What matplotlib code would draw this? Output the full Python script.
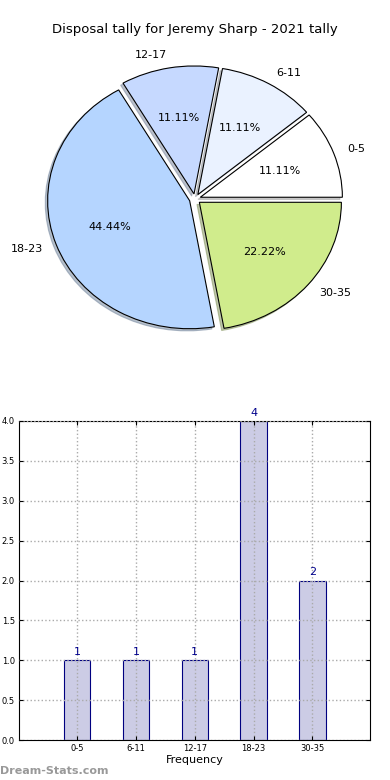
import matplotlib
matplotlib.use("Agg")
import matplotlib.pyplot as plt
import numpy as np

# data
labels = ["0-5", "6-11", "12-17", "18-23", "30-35"]
counts = [1, 1, 1, 4, 2]
pie_colors = ["#ffffff", "#eaf2ff", "#c6d9ff", "#b5d5ff", "#d0ec8c"]
title = "Disposal tally for Jeremy Sharp - 2021 tally"

fig = plt.figure(figsize=(3.9, 7.8), dpi=100)
fig.patch.set_facecolor("white")

# pie chart (slightly squashed, like the old non-equal aspect pies)
ax0 = fig.add_axes([0, (780 - 349) / 780, 1, 300 / 780])
wedges, texts, autotexts = ax0.pie(counts, labels=labels, colors=pie_colors,
                                   explode=[0.04] * len(counts), autopct="%.2f%%",
                                   shadow={"ox": -0.012, "oy": -0.012, "shade": 0.4},
                                   startangle=0, radius=1,
                                   wedgeprops={"edgecolor": "black", "linewidth": 0.8},
                                   textprops={"fontsize": 8})
ax0.set_aspect("auto")
ax0.set_xlim(-1.373, 1.373)
ax0.set_ylim(-1.172, 1.172)
ax0.axis("off")
fig.text(0.5, 1 - 30 / 780, title, ha="center", va="center", fontsize=9.5)

# bar chart
ax1 = fig.add_axes([19 / 390, 40 / 780, 351 / 390, 319 / 780])
x = np.arange(len(labels))
ax1.bar(x, counts, width=0.45, color="#cccce5", edgecolor="navy", linewidth=0.8,
        zorder=2)
for xi, c in zip(x, counts):
    ax1.text(xi, c + 0.04, str(c), ha="center", va="bottom", color="darkblue",
             fontsize=8, clip_on=False)
ax1.set_xlim(-0.99, 4.98)
ax1.set_ylim(0, 4)
ax1.set_yticks(np.arange(0, 4.01, 0.5))
ax1.set_yticklabels(["%.1f" % v for v in np.arange(0, 4.01, 0.5)])
ax1.set_xticks(x)
ax1.set_xticklabels(labels)
ax1.tick_params(labelsize=6, direction="in", top=True, right=True, length=3, pad=3)
ax1.grid(True, color="#aaaaaa", linestyle=":", linewidth=1, zorder=3)
ax1.set_axisbelow(False)
ax1.set_xlabel("Frequency", fontsize=8, labelpad=1)

fig.text(0.0, 1 - 771 / 780, "Dream-Stats.com", ha="left", va="center",
         fontsize=8, color="#999999", fontweight="bold")

plt.savefig("out.png", dpi=100)
